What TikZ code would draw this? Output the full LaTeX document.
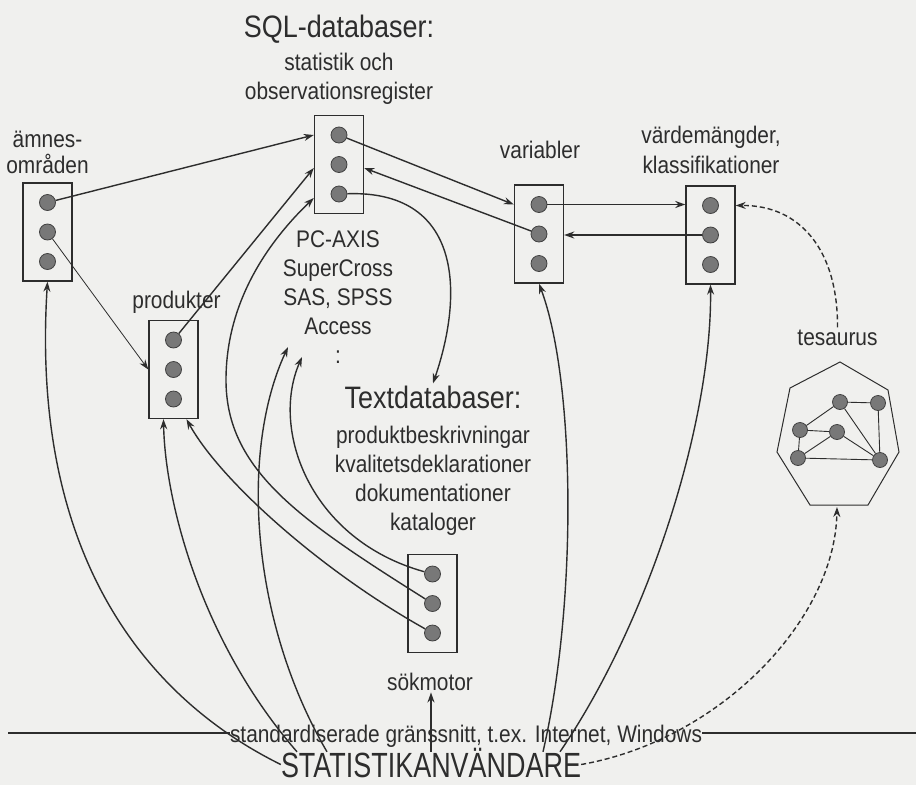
\documentclass[tikz,border=0pt]{standalone}
\usepackage{fontspec}
\setmainfont[FakeStretch=0.87]{Liberation Sans}
\newfontfamily\statfont[FakeStretch=0.77]{Liberation Sans}
\usetikzlibrary{arrows.meta}
\definecolor{paper}{RGB}{240,240,238}
\definecolor{ink}{RGB}{45,45,45}
\definecolor{dotfill}{RGB}{120,120,120}
\definecolor{dotline}{RGB}{65,65,65}
\tikzset{
	frame/.style={draw=ink, line width=1.4pt, minimum width=49pt, minimum height=98pt, inner sep=0pt},
	blob/.style={circle, draw=dotline, fill=dotfill, line width=0.8pt, minimum size=16pt, inner sep=0pt},
	lbl/.style={text=ink, align=center, font=\fontsize{24}{29}\selectfont, inner sep=2pt},
	headlbl/.style={lbl, font=\fontsize{31}{36}\selectfont},
	arr/.style={draw=ink, line width=1.4pt, -{Stealth[length=10pt,width=7pt]}},
	thinarr/.style={arr, line width=0.8pt},
	dasharr/.style={arr, dash pattern=on 5pt off 3pt},
}

\begin{document}
\begin{tikzpicture}[x=1pt,y=-1pt]
	\fill [paper] (0,0) rectangle (916,785);
	\useasboundingbox (0,0) rectangle (916,785);

	% boxes with three dots
	\foreach \n/\x/\y in {amn/47.5/232, sql/339/164.5, prod/173.5/369.5, var/539/234, vard/710.5/235, sok/432.5/603.5} {
		\node [frame] (\n) at (\x,\y) {};
		\node [blob] (\n1) at (\x,\y-29.5) {};
		\node [blob] (\n2) at (\x,\y) {};
		\node [blob] (\n3) at (\x,\y+29.5) {};
	}

	% base of a label = baseline of its last line
	\node [lbl, anchor=base, font=\fontsize{24}{26}\selectfont] (amnlbl) at (47.5,173) {ämnes-\\områden};
	\node [headlbl, anchor=base] (sqltitle) at (339,37) {SQL-databaser:};
	\node [lbl, anchor=base] (sqllbl) at (339,99) {statistik och\\observationsregister};
	\node [lbl, anchor=base] (tools) at (338,363) {PC-AXIS\\SuperCross\\SAS, SPSS\\Access\\:};
	\node [lbl, anchor=base] (prodlbl) at (176.5,308) {produkter};
	\node [lbl, anchor=base] (varlbl) at (540,158) {variabler};
	\node [lbl, anchor=base, font=\fontsize{24}{30}\selectfont] (vardlbl) at (711,173) {värdemängder,\\klassifikationer};
	\node [lbl, anchor=base] (teslbl) at (837.5,345) {tesaurus};
	\node [headlbl, anchor=base] (tdb) at (433,408) {Textdatabaser:};
	\node [lbl, anchor=base] (tdblbl) at (433,530) {produktbeskrivningar\\kvalitetsdeklarationer\\dokumentationer\\kataloger};
	\node [lbl, anchor=base] (soklbl) at (430,690) {sökmotor};
	\node [lbl, anchor=base, inner sep=0pt] (std) at (466,742) {standardiserade gränssnitt, t.ex. Internet, Windows};
	\node [text=ink, font=\statfont\fontsize{35}{40}\selectfont, inner sep=0pt, text height=25pt, text depth=0pt, anchor=base] (stat) at (431,777) {STATISTIKANVÄNDARE};

	% interface line
	\coordinate (lineL) at (8,733);
	\coordinate (lineR) at (916,733);
	\draw [ink, line width=1.4pt] (lineL) -- (lineL -| std.west);
	\draw [ink, line width=1.4pt] (std.east |- lineR) -- (lineR);

	% tesaurus
	\draw [ink, line width=1pt] (840,362) -- (888,390) -- (899,452) -- (868,505) -- (810,505) -- (777,452) -- (790,388) -- cycle;
	\coordinate (hept) at (837,507);
	\foreach \n/\x/\y in {t1/840/402, t2/878/403, t3/800/430, t4/837/432, t5/798/458, t6/880/460}
		\node [blob, minimum size=15pt] (\n) at (\x,\y) {};
	\foreach \a/\b in {t1/t2, t3/t1, t3/t4, t5/t4, t3/t5, t5/t6, t1/t6, t4/t6, t2/t6}
		\draw [ink, line width=0.9pt] (\a) -- (\b);

	\coordinate (toolsA) at (288,347);
	\coordinate (toolsB) at (302,357);

	\draw [arr] (amn1) -- (sql.west |- sql1);
	\draw [thinarr] (amn2) -- (prod.west);
	\draw [arr] (prod1) -- ([yshift=-3.5pt]sql.west);
	\draw [arr] (sql1) -- (var.west |- var1);
	\draw [arr] (var2) -- ([yshift=-3.5pt]sql.east);
	\draw [arr] (var1) -- (vard.west |- var1);
	\draw [arr] (vard2) -- (var.east |- vard2);
	\draw [arr] (sql3) .. controls (460,190) and (465,290) .. (tdb.north);

	\draw [arr] (sok1) .. controls (310,540) and (270,430) .. (toolsB);
	\draw [arr] (sok2) .. controls (300,520) and (226,470) .. (226,380) .. controls (226,300) and (270,240) .. ([yshift=-33.5pt]sql.west);
	\draw [arr] (sok3) .. controls (320,570) and (220,480) .. ([xshift=13pt]prod.south);

	\draw [arr] (stat.west) .. controls (150,700) and (30,560) .. (amn.south);
	\draw [arr] ([xshift=-134pt]stat.north) .. controls (200,640) and (165,500) .. ([xshift=-10pt]prod.south);
	\draw [arr] ([xshift=-104pt]stat.north) .. controls (250,620) and (240,450) .. (toolsA);
	\draw [arr] (stat.north) -- (stat.north |- soklbl.south);
	\draw [arr] ([xshift=112pt]stat.north) .. controls (578,600) and (575,380) .. (var.south);
	\draw [arr] ([xshift=129pt]stat.north) .. controls (650,620) and (712,420) .. (vard.south);
	\draw [dasharr] (stat.east) .. controls (720,740) and (835,620) .. (hept);
	\draw [dasharr] (teslbl.north) .. controls (838,250) and (800,205) .. (vard.east |- vard1);
\end{tikzpicture}
\end{document}
